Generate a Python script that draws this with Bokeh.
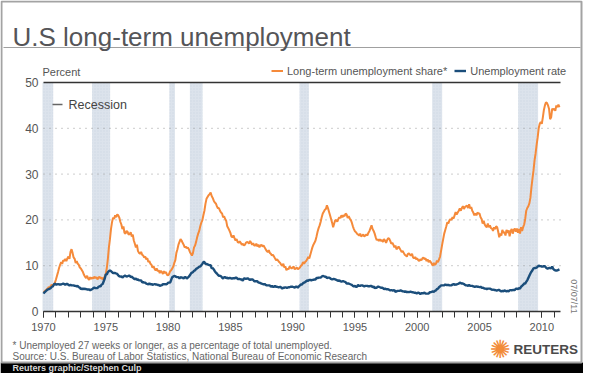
import math
from bokeh.plotting import figure
from bokeh.models import (Range1d, Label, BoxAnnotation, Legend, LegendItem,
                          SingleIntervalTicker, FixedTicker, ColumnDataSource)
from bokeh.embed import file_html
from bokeh.resources import INLINE

# ---------------- data (monthly, starting Jan 1970) ----------------
FIRST_YEAR = 1970

rate_1970s = [
    3.9, 4.2, 4.4, 4.6, 4.8, 4.9, 5.0, 5.1, 5.4, 5.5, 5.9, 6.1,
    5.9, 5.9, 6.0, 5.9, 5.9, 5.9, 6.0, 6.1, 6.0, 5.8, 6.0, 6.0,
    5.8, 5.7, 5.8, 5.7, 5.7, 5.7, 5.6, 5.6, 5.5, 5.6, 5.3, 5.2,
    4.9, 5.0, 4.9, 5.0, 4.9, 4.9, 4.8, 4.8, 4.8, 4.6, 4.8, 4.9,
    5.1, 5.2, 5.1, 5.1, 5.1, 5.4, 5.5, 5.5, 5.9, 6.0, 6.6, 7.2,
    8.1, 8.1, 8.6, 8.8, 9.0, 8.8, 8.6, 8.4, 8.4, 8.4, 8.3, 8.2,
    7.9, 7.7, 7.6, 7.7, 7.4, 7.6, 7.8, 7.8, 7.6, 7.7, 7.8, 7.8,
    7.5, 7.6, 7.4, 7.2, 7.0, 7.2, 6.9, 7.0, 6.8, 6.8, 6.8, 6.4,
    6.4, 6.3, 6.3, 6.1, 6.0, 5.9, 6.2, 5.9, 6.0, 5.8, 5.9, 6.0,
    5.9, 5.9, 5.8, 5.8, 5.6, 5.7, 5.7, 6.0, 5.9, 6.0, 5.9, 6.0,
]
rate_1980s = [
    6.3, 6.3, 6.3, 6.9, 7.5, 7.6, 7.8, 7.7, 7.5, 7.5, 7.5, 7.2,
    7.5, 7.4, 7.4, 7.2, 7.5, 7.5, 7.2, 7.4, 7.6, 7.9, 8.3, 8.5,
    8.6, 8.9, 9.0, 9.3, 9.4, 9.6, 9.8, 9.8, 10.1, 10.4, 10.8, 10.8,
    10.4, 10.4, 10.3, 10.2, 10.1, 10.1, 9.4, 9.5, 9.2, 8.8, 8.5, 8.3,
    8.0, 7.8, 7.8, 7.7, 7.4, 7.2, 7.5, 7.5, 7.3, 7.4, 7.2, 7.3,
    7.3, 7.2, 7.2, 7.3, 7.2, 7.4, 7.4, 7.1, 7.1, 7.1, 7.0, 7.0,
    6.7, 7.2, 7.2, 7.1, 7.2, 7.2, 7.0, 6.9, 7.0, 7.0, 6.9, 6.6,
    6.6, 6.6, 6.6, 6.3, 6.3, 6.2, 6.1, 6.0, 5.9, 6.0, 5.8, 5.7,
    5.7, 5.7, 5.7, 5.4, 5.6, 5.4, 5.4, 5.6, 5.4, 5.4, 5.3, 5.3,
    5.4, 5.2, 5.0, 5.2, 5.2, 5.3, 5.2, 5.2, 5.3, 5.3, 5.4, 5.4,
]
rate_1990s = [
    5.4, 5.3, 5.2, 5.4, 5.4, 5.2, 5.5, 5.7, 5.9, 5.9, 6.2, 6.3,
    6.4, 6.6, 6.8, 6.7, 6.9, 6.9, 6.8, 6.9, 6.9, 7.0, 7.0, 7.3,
    7.3, 7.4, 7.4, 7.4, 7.6, 7.8, 7.7, 7.6, 7.6, 7.3, 7.4, 7.4,
    7.3, 7.1, 7.0, 7.1, 7.1, 7.0, 6.9, 6.8, 6.7, 6.8, 6.6, 6.5,
    6.6, 6.6, 6.5, 6.4, 6.1, 6.1, 6.1, 6.0, 5.9, 5.8, 5.6, 5.5,
    5.6, 5.4, 5.4, 5.8, 5.6, 5.6, 5.7, 5.7, 5.6, 5.5, 5.6, 5.6,
    5.6, 5.5, 5.5, 5.6, 5.6, 5.3, 5.5, 5.1, 5.2, 5.2, 5.4, 5.4,
    5.3, 5.2, 5.2, 5.1, 4.9, 5.0, 4.9, 4.8, 4.9, 4.7, 4.6, 4.7,
    4.6, 4.6, 4.7, 4.3, 4.4, 4.5, 4.5, 4.5, 4.6, 4.5, 4.4, 4.4,
    4.3, 4.4, 4.2, 4.3, 4.2, 4.3, 4.3, 4.2, 4.2, 4.1, 4.1, 4.0,
]
rate_2000s = [
    4.0, 4.1, 4.0, 3.8, 4.0, 4.0, 4.0, 4.1, 3.9, 3.9, 3.9, 3.9,
    4.2, 4.2, 4.3, 4.4, 4.3, 4.5, 4.6, 4.9, 5.0, 5.3, 5.5, 5.7,
    5.7, 5.7, 5.7, 5.9, 5.8, 5.8, 5.8, 5.7, 5.7, 5.7, 5.9, 6.0,
    5.8, 5.9, 5.9, 6.0, 6.1, 6.3, 6.2, 6.1, 6.1, 6.0, 5.8, 5.7,
    5.7, 5.6, 5.8, 5.6, 5.6, 5.6, 5.5, 5.4, 5.4, 5.5, 5.4, 5.4,
    5.3, 5.4, 5.2, 5.2, 5.1, 5.0, 5.0, 4.9, 5.0, 5.0, 5.0, 4.9,
    4.7, 4.8, 4.7, 4.7, 4.6, 4.6, 4.7, 4.7, 4.5, 4.4, 4.5, 4.4,
    4.6, 4.5, 4.4, 4.5, 4.4, 4.6, 4.7, 4.6, 4.7, 4.7, 4.7, 5.0,
    5.0, 4.9, 5.1, 5.0, 5.4, 5.6, 5.8, 6.1, 6.1, 6.5, 6.8, 7.3,
    7.8, 8.3, 8.7, 9.0, 9.4, 9.5, 9.5, 9.6, 9.8, 10.0, 9.9, 9.9,
]
rate_2010s = [
    9.8, 9.8, 9.9, 9.9, 9.6, 9.4, 9.4, 9.5, 9.5, 9.4, 9.8, 9.3,
    9.1, 9.0, 8.9, 9.0, 9.1, 9.2,
]

share_1970s = [
    4.5, 4.3, 4.6, 4.8, 5.0, 5.3, 5.2, 5.6, 5.9, 5.5, 6.0, 6.3,
    7.0, 7.8, 8.6, 9.5, 10.2, 10.8, 10.4, 11.2, 11.0, 11.5, 11.0, 11.6,
    12.0, 11.5, 13.0, 13.6, 12.8, 11.8, 11.5, 10.6, 11.0, 10.4, 10.2, 9.6,
    9.4, 9.0, 8.6, 8.0, 7.6, 7.3, 7.8, 7.2, 6.9, 7.5, 7.1, 7.4,
    7.2, 7.6, 7.3, 7.5, 7.0, 7.4, 7.6, 7.2, 7.4, 7.0, 7.3, 7.6,
    8.2, 9.5, 11.5, 14.0, 15.8, 18.0, 19.5, 20.5, 20.2, 21.0, 20.6, 21.2,
    21.0, 20.5, 19.6, 19.0, 18.0, 18.6, 17.2, 17.0, 17.6, 17.4, 16.8, 16.9,
    17.3, 16.4, 16.8, 15.5, 14.8, 14.0, 14.6, 13.2, 12.8, 12.6, 13.0, 12.4,
    12.2, 11.8, 12.0, 11.4, 11.6, 10.8, 11.0, 10.4, 10.2, 9.6, 9.9, 9.3,
    9.0, 9.4, 8.8, 9.0, 8.4, 8.9, 8.6, 8.2, 8.8, 8.4, 8.6, 8.0,
]
share_1980s = [
    7.9, 8.2, 8.8, 9.0, 9.4, 9.8, 10.6, 11.2, 12.8, 13.6, 14.6, 15.2,
    15.8, 15.5, 15.0, 14.6, 14.0, 14.2, 13.8, 14.0, 13.6, 13.0, 12.6, 12.2,
    12.8, 14.0, 14.4, 15.2, 16.2, 17.0, 17.6, 18.6, 19.4, 19.9, 21.0, 22.0,
    23.5, 24.6, 25.0, 25.4, 25.6, 26.0, 25.2, 24.8, 24.2, 23.8, 23.6, 23.0,
    22.5, 22.6, 22.0, 21.6, 21.4, 20.6, 20.8, 20.2, 19.8, 18.6, 18.2, 17.7,
    17.2, 16.4, 16.2, 16.6, 16.0, 15.5, 15.8, 15.2, 15.0, 15.3, 15.0, 14.6,
    14.8, 14.4, 14.6, 15.0, 15.2, 15.1, 14.8, 15.4, 15.0, 14.6, 14.9, 14.4,
    14.4, 14.8, 14.2, 14.6, 14.0, 14.4, 14.6, 14.2, 14.4, 14.0, 13.6, 13.2,
    13.0, 13.4, 12.8, 12.6, 12.2, 12.4, 12.0, 11.6, 11.2, 11.4, 11.1, 10.8,
    10.6, 10.2, 10.0, 10.4, 9.6, 9.8, 9.0, 9.4, 9.2, 9.8, 9.6, 9.4,
]
share_1990s = [
    9.6, 9.8, 9.2, 9.4, 9.6, 9.2, 9.4, 9.6, 10.0, 10.2, 10.8, 10.4,
    10.8, 11.0, 11.4, 11.9, 11.6, 12.4, 13.2, 14.0, 14.6, 15.0, 15.5, 16.4,
    17.4, 18.2, 18.8, 19.6, 20.6, 21.4, 21.8, 22.2, 22.4, 23.2, 22.6, 21.8,
    21.0, 20.2, 19.4, 18.4, 19.2, 19.9, 20.0, 19.6, 20.2, 20.6, 20.4, 21.0,
    20.6, 21.0, 20.8, 21.4, 21.2, 20.4, 20.8, 20.3, 20.0, 19.4, 18.6, 18.0,
    17.5, 17.3, 17.0, 16.8, 16.6, 17.0, 16.4, 16.6, 16.8, 16.4, 16.6, 16.8,
    16.6, 17.2, 17.6, 18.2, 18.8, 18.0, 17.6, 17.0, 16.2, 15.6, 15.8, 15.4,
    15.8, 15.4, 15.6, 15.2, 15.8, 15.5, 15.0, 15.6, 16.0, 15.9, 15.4, 14.8,
    15.0, 14.6, 14.0, 14.4, 13.6, 13.8, 14.2, 13.8, 13.4, 13.0, 13.2, 12.8,
    12.4, 12.2, 12.0, 12.6, 12.7, 12.4, 12.2, 12.6, 11.8, 11.6, 11.9, 11.4,
]
share_2000s = [
    11.6, 11.2, 11.0, 11.4, 11.2, 11.6, 11.8, 11.4, 11.6, 11.0, 11.4, 10.8,
    11.1, 10.8, 10.4, 10.0, 10.6, 10.2, 10.4, 11.1, 10.8, 11.4, 12.0, 13.3,
    14.6, 15.8, 17.0, 17.8, 18.6, 19.5, 19.2, 19.9, 20.2, 20.0, 20.6, 20.3,
    21.0, 21.7, 21.2, 21.6, 22.0, 22.5, 22.0, 22.6, 23.0, 22.4, 22.8, 23.0,
    23.1, 22.6, 23.4, 22.5, 22.8, 22.0, 21.6, 21.0, 21.4, 21.0, 21.6, 21.4,
    21.4, 20.6, 20.2, 19.2, 19.8, 19.0, 18.6, 18.4, 19.2, 18.4, 18.8, 18.2,
    18.1, 17.6, 18.4, 18.0, 18.6, 18.4, 17.4, 16.2, 17.0, 16.6, 17.8, 17.2,
    17.3, 16.6, 17.8, 17.2, 17.7, 16.4, 17.6, 18.0, 17.0, 17.8, 18.1, 17.4,
    18.1, 17.2, 18.0, 17.0, 18.4, 17.6, 18.4, 19.0, 20.2, 22.0, 22.6, 23.0,
    23.6, 24.8, 27.1, 29.0, 30.8, 33.0, 34.5, 36.4, 38.0, 40.0, 41.0, 41.4,
]
share_2010s = [
    41.0, 42.4, 44.0, 45.0, 45.7, 45.5, 45.0, 44.2, 42.0, 42.4, 44.3, 44.0,
    44.3, 43.8, 45.0, 44.6, 45.2, 44.6,
]

recession_start = [1969.92, 1973.90, 1980.10, 1981.75, 1990.55, 2001.20, 2008.10]
recession_end = [1970.78, 1975.35, 1980.55, 1982.77, 1991.30, 2002.00, 2009.70]

X_START, X_END = 1970, 2011.5
Y_START, Y_END = 0, 50
x_tick_interval = 5
y_ticks = [0, 10, 20, 30, 40, 50]
grid_levels = [10, 20, 30, 40]

# ---------------- layout (pixels) ----------------
W, H = 583, 373
FL, FR, FT, FB = 43, 560, 82, 311       # plot area edges on the canvas
kx = (FR - FL) / (X_END - X_START)
ky = (FB - FT) / (Y_END - Y_START)
x_range = Range1d(X_START - FL / kx, X_END + (W - FR) / kx)
y_range = Range1d(Y_START - (H - FB) / ky, Y_END + FT / ky)

rate = rate_1970s + rate_1980s + rate_1990s + rate_2000s + rate_2010s
share = share_1970s + share_1980s + share_1990s + share_2000s + share_2010s
months = [FIRST_YEAR + i / 12.0 for i in range(len(rate))]
src = ColumnDataSource(dict(x=months, rate=rate, share=share))

ORANGE = "#f58a3a"
NAVY = "#1b4e7b"
TXT = "#555555"
FONT = "Liberation Sans"

p = figure(width=W, height=H, output_backend="svg", toolbar_location=None,
           x_range=x_range, y_range=y_range, min_border=0,
           min_border_left=0, min_border_right=0, min_border_top=0, min_border_bottom=0)
p.outline_line_color = None
p.background_fill_color = "white"
p.border_fill_color = "white"
p.xgrid.visible = False
p.ygrid.visible = False

# decorations (screen units; frame == whole canvas, y measured upward from bottom)
def box(x0, y0, x1, y1, fill=None, line=None, lw=1, level="underlay"):
    p.add_layout(BoxAnnotation(left=x0, right=x1, top=H - y0, bottom=H - y1,
                               left_units="screen", right_units="screen",
                               top_units="screen", bottom_units="screen",
                               fill_color=fill if fill else "white",
                               fill_alpha=1 if fill else 0,
                               line_color=line if line else "white",
                               line_alpha=1 if line else 0, line_width=lw,
                               level=level))

box(0, 362, W, H, fill="#000000")
box(1, 1, W - 2, 362, line="#a3a3a3", lw=2)
box(3, 46.5, W - 3, 47.5, fill="#a0a0a0")

# recession bands
p.quad(left=recession_start, right=recession_end, bottom=Y_START, top=Y_END,
       fill_color="#dce3ec", line_alpha=0,
       hatch_pattern="dot", hatch_color="#b9c4d2", hatch_scale=3, hatch_alpha=0.35)

# gridlines and top rule
n = len(grid_levels)
p.segment(x0=[X_START] * n, y0=grid_levels, x1=[X_END] * n, y1=grid_levels,
          line_color="#9a9a9a", line_dash="1 5", line_width=1)
p.segment(x0=[X_START], y0=[Y_END], x1=[X_END], y1=[Y_END],
          line_color="#333333", line_width=1.6)

r_share = p.line(x="x", y="share", source=src, line_color=ORANGE, line_width=2)
r_rate = p.line(x="x", y="rate", source=src, line_color=NAVY, line_width=2.4)

# axes placed at the data origin
xa = p.xaxis[0]
xa.fixed_location = Y_START
xa.bounds = (X_START, X_END)
xa.ticker = SingleIntervalTicker(interval=x_tick_interval, num_minor_ticks=5)
xa.axis_line_color = "#333333"
xa.axis_line_width = 1.5
xa.major_tick_line_color = "#333333"
xa.minor_tick_line_color = "#333333"
xa.major_tick_out = 6
xa.minor_tick_out = 6
xa.major_tick_in = 0
xa.minor_tick_in = 0
xa.major_label_standoff = 5
xa.major_label_text_font = FONT
xa.major_label_text_font_size = "11px"
xa.major_label_text_color = TXT

ya = p.yaxis[0]
ya.fixed_location = X_START
ya.bounds = (Y_START, Y_END)
ya.ticker = FixedTicker(ticks=y_ticks)
ya.axis_line_color = None
ya.major_tick_line_color = None
ya.minor_tick_line_color = None
ya.major_tick_out = 0
ya.major_label_standoff = 5
ya.major_label_text_font = FONT
ya.major_label_text_font_size = "12px"
ya.major_label_text_color = TXT


def label(px, py, text, size, color=TXT, bold=False, align="left", baseline="middle",
          font=FONT, angle=0):
    p.add_layout(Label(x=px, y=H - py, x_units="screen", y_units="screen", text=text,
                       text_font=font, text_font_size=size, text_color=color,
                       text_font_style="bold" if bold else "normal",
                       text_align=align, text_baseline=baseline, angle=angle))


# title
label(12, 36, "U.S long-term unemployment", "26px", color="#555558", baseline="alphabetic")

# legends
label(42, 71, "Percent", "11px")
leg = Legend(items=[LegendItem(label="Long-term unemployment share*", renderers=[r_share]),
                    LegendItem(label="Unemployment rate", renderers=[r_rate])],
             orientation="horizontal", location=(271, H - 77),
             border_line_alpha=0, background_fill_alpha=0, padding=0, margin=0,
             spacing=7, label_standoff=4, glyph_width=12, glyph_height=13,
             label_height=13, label_text_font=FONT, label_text_font_size="11px",
             label_text_color=TXT)
p.add_layout(leg)

box(52, 103.3, 62, 104.7, fill="#666666", level="overlay")
label(68, 104, "Recession", "12.5px", color="#444444")

# date
label(573, 296, "07/07/11", "9px", color="#777777", align="center", angle=-math.pi / 2)

# footer
label(12, 345, "* Unemployed 27 weeks or longer, as a percentage of total unemployed.", "10px",
      color="#666666")
label(12, 356, "Source: U.S. Bureau of Labor Statistics,  National Bureau of Economic Research",
      "10px", color="#666666")
label(500, 349, "\u273A", "25px", color="#f28c38", align="center", font="DejaVu Sans")
label(513, 349, "REUTERS", "13.5px", color="#4a4a4a", bold=True)
label(12, 367.5, "Reuters graphic/Stephen Culp", "9px", color="#d8d8d8", bold=True)

open("out.html", "w").write(file_html(p, INLINE))
